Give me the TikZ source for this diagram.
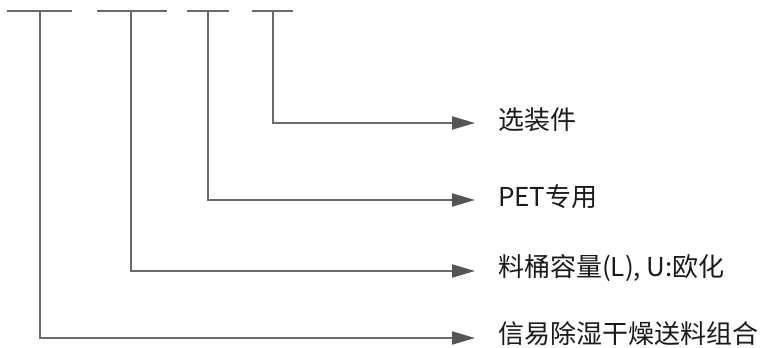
\documentclass[tikz,border=0pt]{standalone}
\usepackage{fontspec}
\setmainfont{Noto Sans CJK SC}
\usetikzlibrary{arrows.meta}
\definecolor{linegray}{HTML}{6A6A6A}
\definecolor{tipgray}{HTML}{555555}
\definecolor{txt}{HTML}{1A1A1A}
\begin{document}
\begin{tikzpicture}[x=1pt,y=-1pt,
  bar/.style={draw=linegray,line width=2pt},
  conn/.style={draw=linegray,line width=2pt,-{Triangle[length=23pt,width=13pt,color=tipgray]}},
  lbl/.style={anchor=west,inner sep=0pt,text=txt,font=\fontsize{26pt}{30pt}\selectfont}]
\useasboundingbox (0,0) rectangle (766,348);
% top bars
\draw[bar] (7,11) -- (72,11);
\draw[bar] (97,11) -- (167,11);
\draw[bar] (187,11) -- (229,11);
\draw[bar] (252,11) -- (293,11);
\coordinate (t1) at (40,11);
\coordinate (t2) at (131,11);
\coordinate (t3) at (208,11);
\coordinate (t4) at (273,11);
% labels
\node[lbl] (l4) at (498,120) {选装件};
\node[lbl] (l3) at (498,197) {PET专用};
\node[lbl] (l2) at (498,268) {料桶容量(L), U:欧化};
\node[lbl] (l1) at (498,334) {信易除湿干燥送料组合};
\coordinate (e4) at (475,123);
\coordinate (e3) at (475,200);
\coordinate (e2) at (475,271);
\coordinate (e1) at (475,338);
\draw[conn] (t4) |- (e4);
\draw[conn] (t3) |- (e3);
\draw[conn] (t2) |- (e2);
\draw[conn] (t1) |- (e1);
\end{tikzpicture}
\end{document}
